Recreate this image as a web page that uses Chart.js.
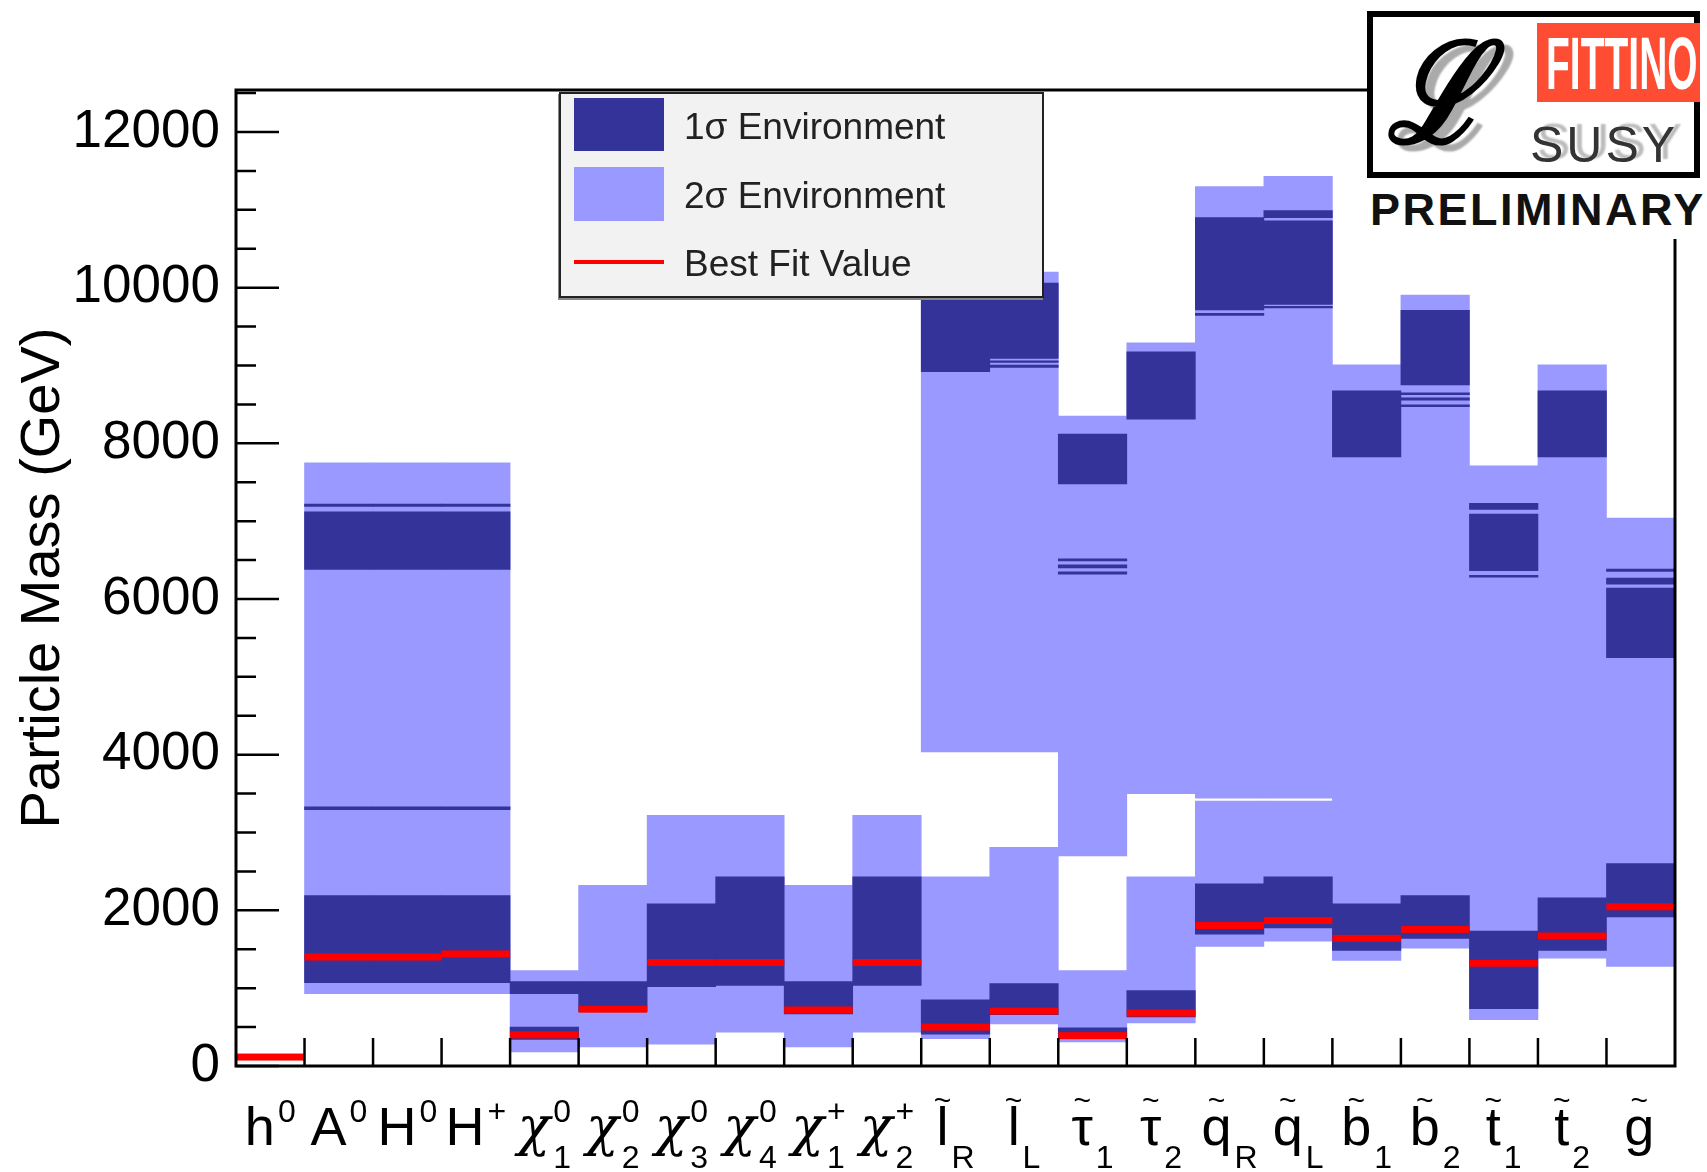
<!DOCTYPE html>
<html>
<head>
<meta charset="utf-8">
<script src="https://cdn.jsdelivr.net/npm/chart.js@4.4.1/dist/chart.umd.min.js"></script>
<style>
  body { margin: 0; background: #fff; }
  #wrap { position: relative; width: 1707px; height: 1172px; overflow: hidden; font-family: "Liberation Sans", Arial, sans-serif; }
  #massChart { position: absolute; left: 0; top: 0; }
  .legend { position: absolute; left: 559px; top: 92px; width: 485px; height: 206px; box-sizing: border-box;
            background: #f2f2f2; border: 2px solid #222; box-shadow: -1px 2px 0 #888; }
  .legend .sw { position: absolute; left: 13px; width: 90px; }
  .legend .txt { position: absolute; left: 123px; font-size: 37px; line-height: 37px; color: #222; white-space: nowrap; }
  .logo { position: absolute; left: 1367px; top: 11px; width: 340px; height: 228px; background: #fff; }
  .logo .box { position: absolute; left: 0; top: 0; width: 333px; height: 167px; box-sizing: border-box; border: 6px solid #000; }
  .logo .red { position: absolute; left: 164px; top: 6px; width: 163px; height: 79px; background: #ff4d33; }
  .logo .fit { position: absolute; left: 9px; top: 3px; font-size: 75px; line-height: 75px; font-weight: bold; color: #fff;
               transform: scaleX(0.52); transform-origin: left top; white-space: nowrap; }
  .logo .ell { position: absolute; left: 14px; top: 6px; font-family: "DejaVu Serif", serif; font-style: italic; font-weight: bold;
               font-size: 140px; line-height: 140px; color: #000; text-shadow: 10px 6px 2px #aaa;
               transform: scaleX(0.85); transform-origin: left top; }
  .logo .susy { position: absolute; left: 157px; top: 103px; font-size: 50px; line-height: 50px; color: #333; letter-spacing: 3px;
                text-shadow: 7px -3px 2px #bbb; }
  .logo .pre { position: absolute; left: 3px; top: 176px; font-size: 45px; line-height: 45px; font-weight: bold; color: #111;
               letter-spacing: 2.5px; white-space: nowrap; }
</style>
</head>
<body>
<div id="wrap">
  <canvas id="massChart" width="1707" height="1172"></canvas>
  <div class="legend">
    <div class="sw" style="top:4px;height:53px;background:#333399"></div>
    <div class="txt" style="top:14px">1σ Environment</div>
    <div class="sw" style="top:73px;height:54px;background:#9999ff"></div>
    <div class="txt" style="top:83px">2σ Environment</div>
    <div class="sw" style="top:166px;height:4px;background:#ff0000"></div>
    <div class="txt" style="top:151px">Best Fit Value</div>
  </div>
  <div class="logo">
    <div class="box">
      <div class="red"><span class="fit">FITTINO</span></div>
      <div class="ell">ℒ</div>
      <div class="susy">SUSY</div>
    </div>
    <div class="pre">PRELIMINARY</div>
  </div>
</div>
<script>
const FONT = '"Liberation Sans", Arial, sans-serif';

/* ── categories and axis label parts ── */
const particles  = ['h0','A0','H0','H+','chi01','chi02','chi03','chi04','chi+1','chi+2',
                    'lR','lL','tau1','tau2','qR','qL','b1','b2','t1','t2','g'];
const labelBase  = ['h','A','H','H','χ','χ','χ','χ','χ','χ','l','l','τ','τ','q','q','b','b','t','t','g'];
const labelSup   = ['0','0','0','+','0','0','0','0','+','+','','','','','','','','','','',''];
const labelSub   = ['','','','','1','2','3','4','1','2','R','L','1','2','R','L','1','2','1','2',''];
const labelTilde = [false,false,false,false,false,false,false,false,false,false,
                    true,true,true,true,true,true,true,true,true,true,true];
const yTickValues = [0, 2000, 4000, 6000, 8000, 10000, 12000];

/* ── 2 sigma ranges (GeV) ── */
const sigma2Low = [null,[930,7750],[930,7750],[930,7750],[180,1225],[245,2320],[280,3220],[435,3220],
                   [245,2320],[435,3220],[350,2430],[540,2810],[310,1225],[555,2430],[1535,3405],
                   [1605,3405],[1355,9010],[1515,9905],[595,7710],[1385,9010],[1280,7040]];
const sigma2High = [null,null,null,null,null,null,null,null,null,null,
                    [4035,10150],[4035,10200],[2700,8350],[3500,9290],[3440,11300],[3440,11430],
                    null,null,null,null,null];

/* ── 1 sigma ranges (GeV) ── */
const sigma1Low = [null,[1070,2190],[1070,2190],[1070,2190],[340,500],[700,1085],[1020,2085],[1035,2430],
                   [670,1085],[1035,2430],[410,850],[660,1060],[360,490],[630,970],[1695,2340],
                   [1775,2430],[1485,2085],[1640,2190],[735,1735],[1485,2160],[1915,2600]];
const sigma1High = [null,[6380,7120],[6380,7120],[6380,7120],[930,1085],null,null,null,null,null,
                    [8920,10100],[9090,10060],[7480,8120],[8310,9175],[9715,10900],[9785,10860],
                    [7825,8675],[8750,9710],[6365,7090],[7825,8675],[5245,6140]];
const sigma1ThinA = [null,[3295,3330],[3295,3330],[3295,3330],null,null,null,null,null,null,
                     null,[8975,9005],[6320,6350],null,[9645,9670],[10900,10990],
                     null,[8555,8585],[7150,7230],null,[6190,6270]];
const sigma1ThinB = [null,[7190,7220],[7190,7220],[7190,7220],null,null,null,null,null,null,
                     null,[9040,9060],[6400,6440],null,null,[9740,9760],
                     null,[8625,8650],[6280,6305],null,[6355,6385]];
const sigma1ThinC = [null,null,null,null,null,null,null,null,null,null,
                     null,null,[6490,6515],null,null,null,null,[8470,8495],null,null,null];

/* ── best fit values (GeV) ── */
const bestFit = [115,1400,1400,1440,400,730,1330,1330,720,1330,500,705,390,680,1805,1870,1640,1755,1320,1670,2045];

const LIGHT = '#9999ff';
const DARK = '#333399';

function band(data, color, order) {
  return { data: data, backgroundColor: color, order: order, borderWidth: 0,
           grouped: false, barPercentage: 1, categoryPercentage: 1 };
}

/* ── red best-fit lines ── */
const bestFitLines = {
  id: 'bestFitLines',
  afterDatasetsDraw(chart) {
    const { ctx, scales: { x, y } } = chart;
    const half = x.width / particles.length / 2;
    ctx.save();
    ctx.fillStyle = '#ff0000';
    bestFit.forEach((v, i) => {
      const cx = x.getPixelForValue(i);
      const py = y.getPixelForValue(v);
      ctx.fillRect(cx - half, py - 3.5, half * 2, 7);
    });
    ctx.restore();
  }
};

/* ── ROOT-like frame, inward ticks, particle labels ── */
const rootFrame = {
  id: 'rootFrame',
  afterDraw(chart) {
    const { ctx, chartArea: a, scales: { x, y } } = chart;
    ctx.save();
    ctx.strokeStyle = '#000';
    ctx.lineWidth = 3;
    ctx.strokeRect(a.left, a.top, a.right - a.left, a.bottom - a.top);

    ctx.lineWidth = 2.5;
    ctx.beginPath();
    for (let v = 0; v <= 12500; v += 500) {
      const py = y.getPixelForValue(v);
      const len = v % 2000 === 0 ? 43 : 20;
      ctx.moveTo(a.left, py);
      ctx.lineTo(a.left + len, py);
    }
    const step = x.width / particles.length;
    for (let i = 1; i < particles.length; i++) {
      const px = a.left + i * step;
      ctx.moveTo(px, a.bottom);
      ctx.lineTo(px, a.bottom - 28);
    }
    ctx.stroke();

    ctx.fillStyle = '#000';
    ctx.textBaseline = 'alphabetic';
    labelBase.forEach((base, i) => {
      const cx = x.getPixelForValue(i);
      const baseFont = base === 'χ' ? 'italic 54px "DejaVu Serif", serif' : '54px ' + FONT;
      ctx.font = baseFont;
      const wb = ctx.measureText(base).width;
      ctx.font = '32px ' + FONT;
      const ws = Math.max(ctx.measureText(labelSup[i]).width, ctx.measureText(labelSub[i]).width);
      const left = cx - (wb + 3 + ws) / 2;
      ctx.textAlign = 'left';
      ctx.font = baseFont;
      ctx.fillText(base, left, a.bottom + 79);
      ctx.font = '32px ' + FONT;
      ctx.fillText(labelSup[i], left + wb + 3, a.bottom + 56);
      ctx.fillText(labelSub[i], left + wb + 3, a.bottom + 102);
      if (labelTilde[i]) {
        ctx.font = '30px ' + FONT;
        ctx.textAlign = 'center';
        ctx.fillText('~', left + wb / 2, a.bottom + 44);
      }
    });
    ctx.restore();
  }
};

new Chart(document.getElementById('massChart'), {
  type: 'bar',
  data: {
    labels: particles,
    datasets: [
      band(sigma1ThinA, DARK, 1),
      band(sigma1ThinB, DARK, 1),
      band(sigma1ThinC, DARK, 1),
      band(sigma1Low, DARK, 2),
      band(sigma1High, DARK, 2),
      band(sigma2Low, LIGHT, 3),
      band(sigma2High, LIGHT, 3)
    ]
  },
  options: {
    responsive: false,
    animation: false,
    layout: { padding: { top: 90, right: 32, left: 0, bottom: 0 } },
    plugins: { legend: { display: false }, tooltip: { enabled: false } },
    scales: {
      x: {
        grid: { display: false, drawTicks: false },
        border: { display: false },
        ticks: { display: false },
        afterFit: s => { s.height = 106; }
      },
      y: {
        min: 0,
        max: 12540,
        grid: { display: false, drawTicks: false },
        border: { display: false },
        afterBuildTicks: s => { s.ticks = yTickValues.map(v => ({ value: v })); },
        ticks: { padding: 16, color: '#000', font: { family: FONT, size: 53 },
                 callback: v => String(v) },
        title: { display: true, text: 'Particle Mass (GeV)', color: '#000',
                 font: { family: FONT, size: 56 }, padding: { top: 10, bottom: 0 } },
        afterFit: s => { s.width = 236; }
      }
    }
  },
  plugins: [bestFitLines, rootFrame]
});
</script>
</body>
</html>
